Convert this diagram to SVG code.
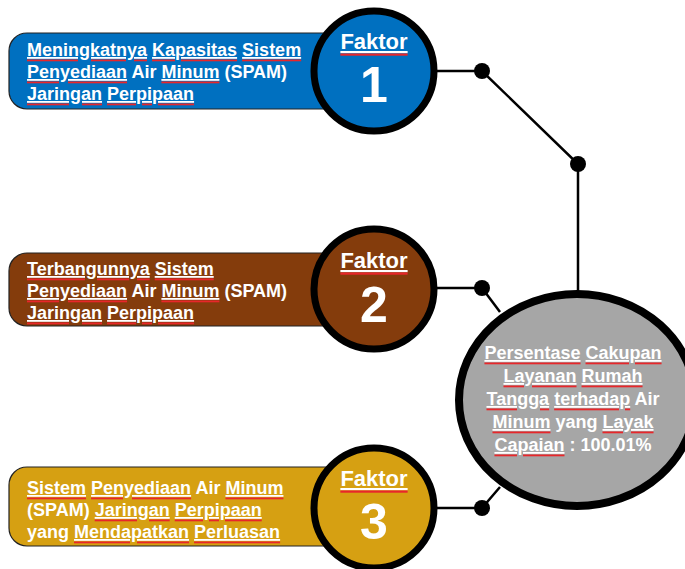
<svg xmlns="http://www.w3.org/2000/svg" xmlns:xlink="http://www.w3.org/1999/xlink" width="685" height="569" viewBox="0 0 685 569">
<style>
.bt{font-family:"Liberation Sans",Arial,sans-serif;font-weight:bold;font-size:18px;fill:var(--gc,#fff)}
.fk{font-family:"Liberation Sans",Arial,sans-serif;font-weight:bold;font-size:22px;fill:var(--gc,#fff);text-anchor:middle}
.num{font-family:"Liberation Sans",Arial,sans-serif;font-weight:bold;font-size:50px;fill:#fff;text-anchor:middle}
.gt{font-family:"Liberation Sans",Arial,sans-serif;font-weight:bold;font-size:18px;fill:var(--gc,#fff);text-anchor:middle}
.sp{fill:var(--uc,#fff);text-decoration:underline}
.w{fill:var(--gc,#fff)}
.red{--gc:none;--uc:#e8262a}
.box{stroke:#222;stroke-width:1.2}
.ring{stroke:#000;stroke-width:7}
.ln{stroke:#000;stroke-width:2.5;fill:none}
.dot{fill:#000}
</style>
<g id="connectors">
<polyline class="ln" points="437,71 482,71 578,164 578,292"/>
<polyline class="ln" points="437,288 482,288 500,312"/>
<polyline class="ln" points="437,508 482,508 500,487"/>
<circle class="dot" cx="482" cy="71" r="8"/>
<circle class="dot" cx="578" cy="164" r="8"/>
<circle class="dot" cx="482" cy="288" r="8"/>
<circle class="dot" cx="482" cy="508" r="8"/>
</g>
<g id="factor1">
<path class="box" fill="#0070C0" d="M345 33 H27 A18 18 0 0 0 9 51 V91 A18 18 0 0 0 27 109 H345 Z"/>
<text id="t1" class="bt"><tspan x="27" y="56"><tspan class="sp"><tspan class="w">Meningkatnya</tspan></tspan> <tspan class="sp"><tspan class="w">Kapasitas</tspan></tspan> <tspan class="sp"><tspan class="w">Sistem</tspan></tspan></tspan><tspan x="27" y="78"><tspan class="sp"><tspan class="w">Penyediaan</tspan></tspan> Air <tspan class="sp"><tspan class="w">Minum</tspan></tspan> (SPAM)</tspan><tspan x="27" y="100"><tspan class="sp"><tspan class="w">Jaringan</tspan></tspan> <tspan class="sp"><tspan class="w">Perpipaan</tspan></tspan></tspan></text>
<use xlink:href="#t1" href="#t1" class="red" transform="translate(0,2.5)"/>
<circle class="ring" fill="#0070C0" cx="374" cy="71" r="60"/>
<text id="f1" class="fk" x="374" y="49"><tspan class="sp"><tspan class="w">Faktor</tspan></tspan></text>
<use xlink:href="#f1" href="#f1" class="red" transform="translate(0,2.5)"/>
<text class="num" x="374" y="102">1</text>
</g>
<g id="factor2">
<path class="box" fill="#843C0C" d="M345 253 H27 A18 18 0 0 0 9 271 V308 A18 18 0 0 0 27 326 H345 Z"/>
<text id="t2" class="bt"><tspan x="27" y="275"><tspan class="sp"><tspan class="w">Terbangunnya</tspan></tspan> <tspan class="sp"><tspan class="w">Sistem</tspan></tspan></tspan><tspan x="27" y="297"><tspan class="sp"><tspan class="w">Penyediaan</tspan></tspan> Air <tspan class="sp"><tspan class="w">Minum</tspan></tspan> (SPAM)</tspan><tspan x="27" y="319"><tspan class="sp"><tspan class="w">Jaringan</tspan></tspan> <tspan class="sp"><tspan class="w">Perpipaan</tspan></tspan></tspan></text>
<use xlink:href="#t2" href="#t2" class="red" transform="translate(0,2.5)"/>
<circle class="ring" fill="#843C0C" cx="374" cy="289" r="60"/>
<text id="f2" class="fk" x="374" y="268"><tspan class="sp"><tspan class="w">Faktor</tspan></tspan></text>
<use xlink:href="#f2" href="#f2" class="red" transform="translate(0,2.5)"/>
<text class="num" x="374" y="322">2</text>
</g>
<g id="factor3">
<path class="box" fill="#D6A012" d="M345 467 H27 A18 18 0 0 0 9 485 V528 A18 18 0 0 0 27 546 H345 Z"/>
<text id="t3" class="bt"><tspan x="27" y="494"><tspan class="sp"><tspan class="w">Sistem</tspan></tspan> <tspan class="sp"><tspan class="w">Penyediaan</tspan></tspan> Air <tspan class="sp"><tspan class="w">Minum</tspan></tspan></tspan><tspan x="27" y="516">(SPAM) <tspan class="sp"><tspan class="w">Jaringan</tspan></tspan> <tspan class="sp"><tspan class="w">Perpipaan</tspan></tspan></tspan><tspan x="27" y="538">yang <tspan class="sp"><tspan class="w">Mendapatkan</tspan></tspan> <tspan class="sp"><tspan class="w">Perluasan</tspan></tspan></tspan></text>
<use xlink:href="#t3" href="#t3" class="red" transform="translate(0,2.5)"/>
<circle class="ring" fill="#D6A012" cx="374" cy="508" r="60"/>
<text id="f3" class="fk" x="374" y="486"><tspan class="sp"><tspan class="w">Faktor</tspan></tspan></text>
<use xlink:href="#f3" href="#f3" class="red" transform="translate(0,2.5)"/>
<text class="num" x="374" y="539">3</text>
</g>
<g id="result">
<ellipse cx="577" cy="400" rx="118" ry="106" fill="#A6A6A6" stroke="#000" stroke-width="8"/>
<text id="t4" class="gt"><tspan x="573" y="359"><tspan class="sp"><tspan class="w">Persentase</tspan></tspan> <tspan class="sp"><tspan class="w">Cakupan</tspan></tspan></tspan><tspan x="573" y="382"><tspan class="sp"><tspan class="w">Layanan</tspan></tspan> <tspan class="sp"><tspan class="w">Rumah</tspan></tspan></tspan><tspan x="573" y="405"><tspan class="sp"><tspan class="w">Tangga</tspan></tspan> <tspan class="sp"><tspan class="w">terhadap</tspan></tspan> Air</tspan><tspan x="573" y="428"><tspan class="sp"><tspan class="w">Minum</tspan></tspan> yang <tspan class="sp"><tspan class="w">Layak</tspan></tspan></tspan><tspan x="573" y="451"><tspan class="sp"><tspan class="w">Capaian</tspan></tspan> : 100.01%</tspan></text>
<use xlink:href="#t4" href="#t4" class="red" transform="translate(0,2.5)"/>
</g>
</svg>
